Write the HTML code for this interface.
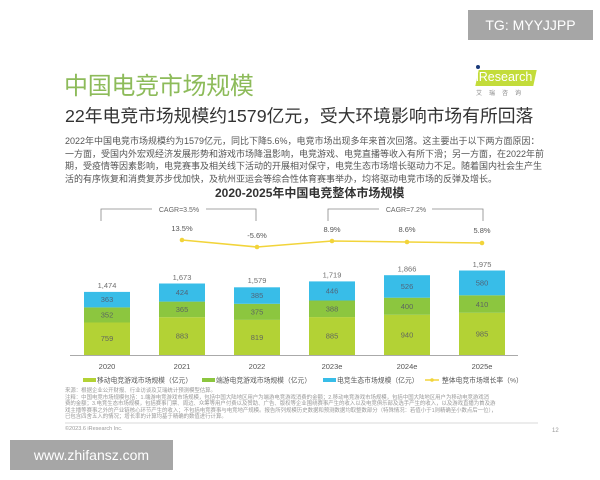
<!DOCTYPE html>
<html><head><meta charset="utf-8">
<style>
*{margin:0;padding:0;box-sizing:border-box}
body{width:600px;height:480px;background:#fff;position:relative;overflow:hidden;font-family:"Liberation Sans","Noto Sans CJK SC",sans-serif}
.a{position:absolute;white-space:nowrap}
.p{font-size:9px;color:#555;left:65px}
.f{font-size:5.4px;color:#999;left:65px}
</style></head><body>
<div class="a" style="left:468px;top:10px;width:125px;height:30px;background:#a6a6a6;color:#fff;font-size:14px;line-height:30px;text-align:center">TG: MYYJJPP</div>
<div class="a" style="left:64px;top:66px;font-size:24px;color:#8dbb5a;letter-spacing:-0.3px">中国电竞市场规模</div>
<div class="a" style="left:477px;top:70px;width:58px;height:16px;background:#c3dc3a;transform:skewX(-12deg)"></div>
<div class="a" style="left:476px;top:70px;font-size:12.5px;color:#fff">iResearch</div>
<div class="a" style="left:476px;top:65px;width:4px;height:4px;background:#1a3a7a;border-radius:50%"></div>
<div class="a" style="left:476px;top:88px;font-size:6px;color:#888;letter-spacing:7px">艾瑞咨询</div>
<div class="a" style="left:65px;top:102px;font-size:17.8px;color:#333">22年电竞市场规模约1579亿元，受大环境影响市场有所回落</div>
<div class="a p" style="top:134px">2022年中国电竞市场规模约为1579亿元，同比下降5.6%，电竞市场出现多年来首次回落。这主要出于以下两方面原因：</div>
<div class="a p" style="top:146.5px">一方面，受国内外宏观经济发展形势和游戏市场降温影响，电竞游戏、电竞直播等收入有所下滑；另一方面，在2022年前</div>
<div class="a p" style="top:159px">期，受疫情等因素影响，电竞赛事及相关线下活动的开展相对保守，电竞生态市场增长驱动力不足。随着国内社会生产生</div>
<div class="a p" style="top:171.5px">活的有序恢复和消费复苏步伐加快，及杭州亚运会等综合性体育赛事举办，均将驱动电竞市场的反弹及增长。</div>
<div class="a" style="left:215px;top:184px;font-size:12px;font-weight:bold;color:#333">2020-2025年中国电竞整体市场规模</div>
<svg class="a" style="left:0;top:0" width="600" height="480" font-family="Liberation Sans, Noto Sans CJK SC, sans-serif">
<g fill="none" stroke="#888" stroke-width="0.8">
<path d="M101 221V209H152M206 209H256V221"/>
<path d="M328 221V209H379M432 209H483V221"/>
</g>
<g font-size="7" fill="#666" text-anchor="middle">
<text x="179" y="212">CAGR=3.5%</text>
<text x="406" y="212">CAGR=7.2%</text>
</g>
<polyline points="182,240 257,247 332,241 407,242 482,243" fill="none" stroke="#f2d43a" stroke-width="1.5"/>
<g fill="#f2d43a"><circle cx="182" cy="240" r="2.3"/><circle cx="257" cy="247" r="2.3"/><circle cx="332" cy="241" r="2.3"/><circle cx="407" cy="242" r="2.3"/><circle cx="482" cy="243" r="2.3"/></g>
<g font-size="7.5" fill="#555" text-anchor="middle">
<text x="182" y="231">13.5%</text><text x="257" y="238">-5.6%</text><text x="332" y="232">8.9%</text><text x="407" y="232">8.6%</text><text x="482" y="233">5.8%</text>
</g>
<g>
<rect x="84" y="322.5" width="46" height="32.5" fill="#b3d235"/><rect x="84" y="307.4" width="46" height="15.1" fill="#8cc63f"/><rect x="84" y="291.9" width="46" height="15.5" fill="#38bde8"/>
<rect x="159" y="317.2" width="46" height="37.8" fill="#b3d235"/><rect x="159" y="301.6" width="46" height="15.6" fill="#8cc63f"/><rect x="159" y="283.5" width="46" height="18.1" fill="#38bde8"/>
<rect x="234" y="319.9" width="46" height="35.1" fill="#b3d235"/><rect x="234" y="303.8" width="46" height="16.1" fill="#8cc63f"/><rect x="234" y="287.3" width="46" height="16.5" fill="#38bde8"/>
<rect x="309" y="317.1" width="46" height="37.9" fill="#b3d235"/><rect x="309" y="300.5" width="46" height="16.6" fill="#8cc63f"/><rect x="309" y="281.4" width="46" height="19.1" fill="#38bde8"/>
<rect x="384" y="314.8" width="46" height="40.2" fill="#b3d235"/><rect x="384" y="297.7" width="46" height="17.1" fill="#8cc63f"/><rect x="384" y="275.2" width="46" height="22.5" fill="#38bde8"/>
<rect x="459" y="312.8" width="46" height="42.2" fill="#b3d235"/><rect x="459" y="295.3" width="46" height="17.5" fill="#8cc63f"/><rect x="459" y="270.5" width="46" height="24.8" fill="#38bde8"/>
</g>
<g font-size="7.5" fill="#556" text-anchor="middle" opacity="0.85">
<text x="107" y="341">759</text><text x="107" y="317.5">352</text><text x="107" y="302">363</text><text x="107" y="288" fill="#555">1,474</text>
<text x="182" y="338.5">883</text><text x="182" y="312">365</text><text x="182" y="295">424</text><text x="182" y="280" fill="#555">1,673</text>
<text x="257" y="340">819</text><text x="257" y="314.5">375</text><text x="257" y="298">385</text><text x="257" y="283" fill="#555">1,579</text>
<text x="332" y="338.5">885</text><text x="332" y="311.5">388</text><text x="332" y="293.5">446</text><text x="332" y="277.5" fill="#555">1,719</text>
<text x="407" y="337.5">940</text><text x="407" y="309">400</text><text x="407" y="289">526</text><text x="407" y="271.5" fill="#555">1,866</text>
<text x="482" y="336.5">985</text><text x="482" y="307">410</text><text x="482" y="285.5">580</text><text x="482" y="267" fill="#555">1,975</text>
</g>
<line x1="70" y1="355.5" x2="518" y2="355.5" stroke="#aaa" stroke-width="1"/>
<g font-size="7.5" fill="#555" text-anchor="middle">
<text x="107" y="369">2020</text><text x="182" y="369">2021</text><text x="257" y="369">2022</text><text x="332" y="369">2023e</text><text x="407" y="369">2024e</text><text x="482" y="369">2025e</text>
</g>
<g font-size="6.8" fill="#555">
<rect x="83" y="378" width="13" height="4" fill="#b3d235"/><text x="97" y="382.5">移动电竞游戏市场规模（亿元）</text>
<rect x="202" y="378" width="13" height="4" fill="#8cc63f"/><text x="216" y="382.5">端游电竞游戏市场规模（亿元）</text>
<rect x="323" y="378" width="13" height="4" fill="#38bde8"/><text x="337" y="382.5">电竞生态市场规模（亿元）</text>
<line x1="425" y1="380" x2="439" y2="380" stroke="#f2d43a" stroke-width="1.5"/><circle cx="432" cy="380" r="1.8" fill="#f2d43a"/><text x="442" y="382.5">整体电竞市场增长率（%）</text>
</g>
<line x1="65" y1="423" x2="538" y2="423" stroke="#ccc" stroke-width="0.7"/>
</svg>
<div class="a f" style="top:386px">来源：根据企业公开财报、行业访谈及艾瑞统计预测模型估算。</div>
<div class="a f" style="top:392.5px">注释：中国电竞市场规模包括：1.端游电竞游戏市场规模，包括中国大陆地区用户为端游电竞游戏消费的金额；2.移动电竞游戏市场规模，包括中国大陆地区用户为移动电竞游戏消</div>
<div class="a f" style="top:399px">费的金额；3.电竞生态市场规模，包括赛事门票、周边、众筹等用户付费以及赞助、广告、版权等企业围绕赛事产生的收入以及电竞俱乐部及选手产生的收入，以及游戏直播为首及游</div>
<div class="a f" style="top:405.5px">戏主播等赛事之外的产业链核心环节产生的收入；不包括电竞赛事与电竞地产规模。报告所列规模历史数据和预测数据均取整数部分（特殊情况：若值小于1则精确至小数点后一位），</div>
<div class="a f" style="top:412px">已包含四舍五入的情况；增长率的计算均基于精确的数值进行计算。</div>
<div class="a" style="left:65px;top:426px;font-size:5.5px;color:#999">©2023.6 iResearch Inc.</div>
<div class="a" style="left:552px;top:428px;font-size:6px;color:#999">12</div>
<div class="a" style="left:10px;top:440px;width:163px;height:30px;background:#a6a6a6;color:#fff;font-size:14px;line-height:30px;text-align:center">www.zhifansz.com</div>
</body></html>
